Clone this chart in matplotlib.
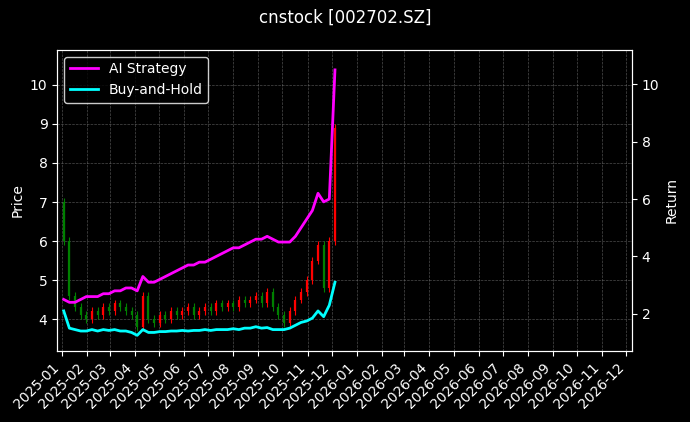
import numpy as np
import pandas as pd
import matplotlib
matplotlib.use("Agg")
import matplotlib.pyplot as plt
import matplotlib.dates as mdates

# weekly closes
close = [6.0, 4.6, 4.3, 4.1,
         4.0, 4.2, 4.1, 4.3,
         4.2, 4.4, 4.3, 4.2,
         4.1, 3.8, 4.6, 4.0,
         3.9, 4.1, 4.0, 4.2, 4.1,
         4.2, 4.3, 4.1, 4.2,
         4.3, 4.2, 4.4, 4.3,
         4.4, 4.3, 4.5, 4.4, 4.5,
         4.6, 4.4, 4.7, 4.3,
         4.1, 3.9, 4.2, 4.5,
         4.7, 5.0, 5.5, 5.9, 4.8,
         6.0, 8.9]
first_open = 7.0
strategy = [2.5, 2.4, 2.4, 2.5, 2.6, 2.6, 2.6, 2.7, 2.7, 2.8, 2.8, 2.9,
            2.9, 2.8, 3.3, 3.1, 3.1, 3.2, 3.3, 3.4, 3.5, 3.6, 3.7, 3.7, 3.8,
            3.8, 3.9, 4.0, 4.1, 4.2, 4.3, 4.3, 4.4, 4.5, 4.6, 4.6, 4.7, 4.6,
            4.5, 4.5, 4.5, 4.7, 5.0, 5.3, 5.6, 6.2, 5.9, 6.0, 10.5]
buyhold = [2.1, 1.5, 1.45, 1.4, 1.4, 1.45, 1.4, 1.45, 1.42, 1.45, 1.4, 1.4,
           1.35, 1.25, 1.45, 1.35, 1.35, 1.38, 1.38, 1.4, 1.4, 1.42, 1.4, 1.42, 1.42,
           1.45, 1.42, 1.45, 1.45, 1.45, 1.48, 1.45, 1.5, 1.5, 1.55, 1.5, 1.52, 1.45,
           1.45, 1.45, 1.5, 1.6, 1.7, 1.75, 1.85, 2.1, 1.9, 2.3, 3.1]

dates = pd.date_range("2025-01-03", periods=len(close), freq="W-FRI")
opens = [first_open] + close[:-1]

plt.style.use("dark_background")
fig, ax = plt.subplots(figsize=(6.9, 4.22), dpi=100)
fig.subplots_adjust(left=0.083, right=0.916, top=0.882, bottom=0.168)

for d, o, c in zip(dates, opens, close):
    col = "red" if c >= o else "green"
    ax.vlines(d, min(o, c), max(o, c), color=col, linewidth=1.6)
    ax.vlines(d, min(o, c) - 0.1, max(o, c) + 0.1, color=col, linewidth=0.8)

ax.set_ylim(3.18, 10.9)
ax.set_ylabel("Price")
ax.grid(True, linestyle="--", linewidth=0.5, color="gray", alpha=0.6)
ax.set_xlim(pd.Timestamp("2024-12-26"), pd.Timestamp("2026-12-08"))
ax.xaxis.set_major_locator(mdates.MonthLocator())
ax.xaxis.set_major_formatter(mdates.DateFormatter("%Y-%m"))
plt.setp(ax.get_xticklabels(), rotation=45, ha="right")

ax2 = ax.twinx()
ax2.plot(dates, strategy, color="magenta", linewidth=2, label="AI Strategy")
ax2.plot(dates, buyhold, color="cyan", linewidth=2, label="Buy-and-Hold")
ax2.set_ylim(0.7, 11.2)
ax2.set_ylabel("Return")
ax2.legend(loc="upper left", edgecolor="white")

fig.suptitle("cnstock [002702.SZ]", fontsize=12)
fig.savefig("out.png", dpi=100, facecolor="black")
